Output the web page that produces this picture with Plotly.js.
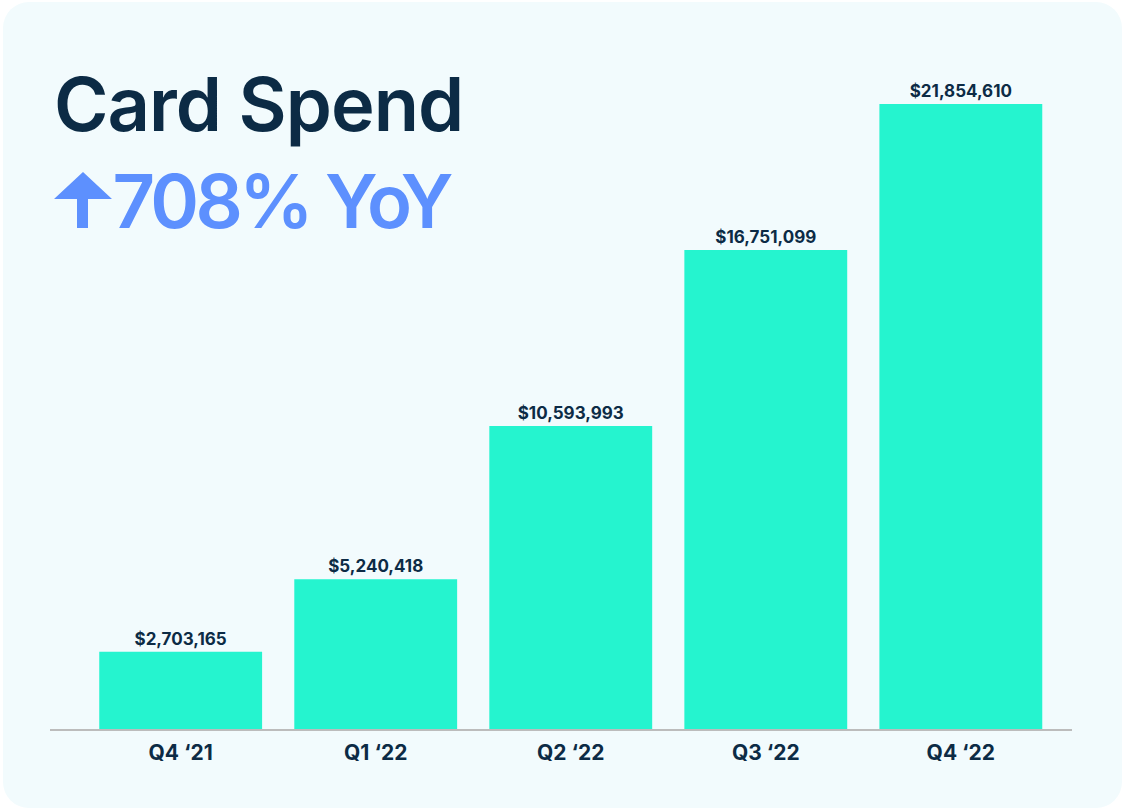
<!DOCTYPE html>
<html>
<head>
<meta charset="utf-8">
<script src="https://cdn.plot.ly/plotly-3.0.1.min.js"></script>
<style>
  html, body { margin: 0; padding: 0; background: #ffffff; }
  #card { position: absolute; left: 3px; top: 2px; width: 1119px; height: 806px; border-radius: 26px; background: #f2fbfd; }
  #chart { position: absolute; left: 0; top: 0; width: 1125px; height: 811px; }
  #chart g.annotation[data-index="0"] text { letter-spacing: -1px; }
  #chart g.annotation[data-index="1"] text { letter-spacing: -3.6px; }
</style>
</head>
<body>
<div id="card"></div>
<div id="chart"></div>
<script>
const quarters = ["Q4 \u201821", "Q1 \u201822", "Q2 \u201822", "Q3 \u201822", "Q4 \u201822"];
const cardSpend = [2703165, 5240418, 10593993, 16751099, 21854610];
const titleText = "Card Spend";
const growthText = "708% YoY";

const navy = "#0c2b45";
const blue = "#5d90fe";
const teal = "#25f4cf";
const FONT = "Inter, 'Noto Sans', sans-serif";

// plot area in pixels: x 50..1072, y 60..729
const px = x => (x - 50) / 1022;
const py = y => (729 - y) / 669;

const arrowPath = "M " + px(83) + " " + py(172) +
  " L " + px(112) + " " + py(199) +
  " L " + px(88) + " " + py(199) +
  " L " + px(88) + " " + py(228) +
  " L " + px(77) + " " + py(228) +
  " L " + px(77) + " " + py(199) +
  " L " + px(54) + " " + py(199) + " Z";

const maxVal = Math.max(...cardSpend);

const trace = {
  type: "bar",
  x: quarters,
  y: cardSpend,
  marker: { color: teal, line: { width: 0 } },
  text: cardSpend.map(v => "$" + v.toLocaleString("en-US")),
  textposition: "outside",
  cliponaxis: false,
  textfont: { family: FONT, size: 17, color: navy, weight: 700 },
  hoverinfo: "skip"
};

const layout = {
  width: 1125,
  height: 811,
  margin: { l: 50, r: 53, t: 60, b: 82 },
  paper_bgcolor: "rgba(0,0,0,0)",
  plot_bgcolor: "rgba(0,0,0,0)",
  showlegend: false,
  bargap: 0.165,
  xaxis: {
    type: "category",
    range: [-0.67, 4.57],
    showline: true,
    linecolor: "#bcbcbc",
    linewidth: 2,
    ticks: "",
    showgrid: false,
    zeroline: false,
    tickfont: { family: FONT, size: 21, color: navy, weight: 700 },
    ticklabelstandoff: 4,
    fixedrange: true
  },
  yaxis: {
    visible: false,
    range: [0, maxVal * 669 / 625],
    showgrid: false,
    zeroline: false,
    fixedrange: true
  },
  annotations: [
    {
      xref: "paper", yref: "paper", x: px(47), y: py(104),
      xanchor: "left", yanchor: "middle", showarrow: false,
      text: titleText,
      font: { family: FONT, size: 74, color: navy, weight: 600 }
    },
    {
      xref: "paper", yref: "paper", x: px(96), y: py(200.5),
      xanchor: "left", yanchor: "middle", showarrow: false,
      text: growthText,
      font: { family: FONT, size: 74, color: blue, weight: 600 }
    }
  ],
  shapes: [
    {
      type: "path", xref: "paper", yref: "paper",
      path: arrowPath, fillcolor: blue, line: { width: 0 }, layer: "above"
    }
  ]
};

Plotly.newPlot("chart", [trace], layout, { displayModeBar: false, staticPlot: true });
</script>
</body>
</html>
